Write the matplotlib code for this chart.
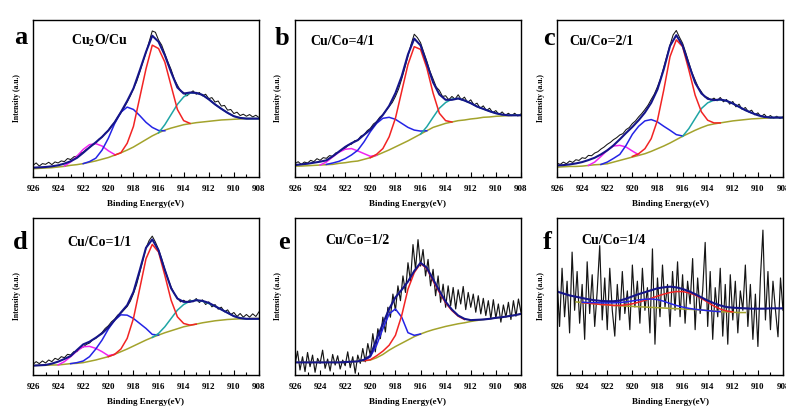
"""Cu 2p satellite XPS fits for six Cu/Co ratios, 2x3 panel figure."""
import matplotlib

matplotlib.use("Agg")
import matplotlib.pyplot as plt  # noqa: E402
import numpy as np  # noqa: E402

plt.rcParams["font.family"] = "Liberation Serif"
plt.rcParams["font.weight"] = "bold"
plt.rcParams["mathtext.fontset"] = "custom"
plt.rcParams["mathtext.rm"] = "Liberation Serif:bold"

# binding energy axis, curves sampled every 0.5 eV from 926 down to 908
E_START, E_END = 926.0, 908.0

# ---- panel a: Cu2O/Cu ----
A_BG = [25, 26, 27, 28, 30, 32, 35, 37, 40, 44, 48, 53, 58, 65, 72, 80, 89, 100, 111, 122,
        131, 139, 145, 150, 155, 158, 161, 163, 165, 167, 169, 170, 171, 172, 173, 173, 173]
A_ENV = [28, 29, 30, 32, 35, 40, 47, 57, 72, 88, 103, 119, 138, 162, 192, 225, 262, 315, 370, 418,
         400, 360, 310, 265, 247, 250, 249, 243, 230, 215, 202, 190, 180, 175, 173, 173, 173]
A_RED = (919.5, [65, 72, 100, 150, 235, 320, 390, 380, 340, 270, 200, 167, 159])
A_BLUE = (922.0, [40, 46, 56, 80, 115, 158, 192, 207, 200, 182, 162, 147, 138, 137])
A_PINK = (923.5, [33, 45, 62, 82, 96, 99, 92, 78, 67])
A_TEAL = (916.0, [131, 155, 185, 215, 237, 249, 249, 243, 230, 215, 202, 190, 180, 175, 173, 173, 173])
A_RAW = [35, 42, 33, 40, 38, 44, 37, 45, 42, 48, 46, 55, 52, 60, 62, 70, 74, 82, 88, 95,
         100, 112, 118, 130, 138, 152, 162, 178, 190, 205, 222, 240, 262, 282, 310, 340, 368, 400, 432, 428,
         405, 390, 365, 340, 318, 290, 272, 255, 250, 240, 248, 255, 245, 250, 240, 245, 232, 235, 222, 225,
         210, 212, 198, 200, 188, 192, 182, 186, 180, 185, 178, 183, 176]

# ---- panel b: Cu/Co=4/1 ----
B_BG = [33, 33, 34, 35, 36, 37, 38, 41, 43, 46, 48, 53, 58, 65, 73, 81, 90, 99, 108, 118,
        128, 138, 148, 154, 160, 164, 168, 170, 173, 175, 178, 179, 181, 182, 183, 184, 184]
B_ENV = [36, 38, 40, 43, 46, 50, 62, 76, 90, 101, 110, 126, 141, 163, 185, 212, 250, 300, 365, 412,
         392, 338, 282, 246, 230, 230, 234, 228, 220, 210, 203, 196, 190, 186, 184, 184, 184]
B_RED = (920.0, [58, 68, 85, 120, 175, 255, 335, 388, 380, 325, 250, 190, 168, 164])
B_BLUE = (923.5, [38, 42, 47, 55, 66, 80, 105, 135, 160, 175, 178, 172, 160, 148, 140, 137, 138])
B_PINK = (924.0, [36, 45, 60, 74, 83, 85, 78, 70, 62, 65])
B_TEAL = (916.0, [128, 150, 178, 205, 222, 232, 234, 228, 220, 210, 203, 196, 190, 186, 184, 184, 184])
B_RAW = [40, 46, 38, 45, 42, 50, 46, 55, 50, 58, 56, 64, 62, 72, 74, 82, 86, 96, 98, 108,
         110, 122, 126, 138, 145, 158, 165, 178, 186, 198, 210, 222, 240, 262, 292, 325, 360, 395, 425, 415,
         400, 372, 345, 315, 292, 268, 258, 240, 242, 230, 240, 232, 245, 230, 238, 222, 230, 215, 220, 205,
         212, 198, 205, 192, 198, 186, 194, 184, 190, 183, 190, 182, 188]

# ---- panel c: Cu/Co=2/1 ----
C_BG = [30, 31, 32, 32, 33, 35, 37, 38, 40, 45, 50, 55, 60, 65, 70, 77, 85, 93, 102, 112,
        122, 131, 140, 148, 155, 159, 162, 165, 168, 170, 172, 174, 175, 176, 177, 178, 178]
C_ENV = [35, 36, 38, 41, 45, 51, 58, 68, 80, 95, 113, 132, 150, 170, 193, 222, 262, 322, 392, 424,
         393, 336, 282, 250, 234, 230, 232, 228, 220, 210, 200, 192, 185, 180, 178, 178, 178]
C_RED = (920.0, [62, 70, 85, 115, 170, 260, 360, 410, 390, 320, 245, 195, 170, 162, 162])
C_BLUE = (922.5, [38, 45, 56, 68, 95, 128, 152, 168, 172, 165, 152, 140, 127, 123])
C_PINK = (923.5, [35, 45, 62, 80, 93, 95, 90, 78, 67])
C_TEAL = (916.0, [122, 145, 175, 205, 222, 230, 231, 228, 220, 210, 200, 192, 185, 180, 178, 178, 178])
C_RAW = [42, 38, 45, 40, 48, 44, 52, 50, 58, 56, 65, 64, 72, 76, 84, 90, 98, 104, 112, 118,
         126, 130, 142, 148, 160, 168, 180, 190, 202, 215, 232, 248, 270, 295, 328, 362, 395, 425, 438, 418,
         400, 372, 342, 312, 290, 268, 255, 240, 238, 230, 236, 228, 238, 225, 232, 218, 226, 210, 218, 202,
         208, 195, 200, 186, 192, 180, 188, 178, 184, 176, 182, 175, 180]

# ---- panel d: Cu/Co=1/1 ----
D_BG = [28, 29, 29, 30, 30, 32, 34, 35, 37, 41, 45, 50, 55, 62, 70, 78, 87, 96, 105, 113,
        120, 127, 133, 139, 145, 149, 153, 157, 160, 163, 165, 167, 168, 169, 169, 170, 170]
D_ENV = [28, 29, 30, 34, 40, 48, 57, 75, 92, 100, 112, 125, 143, 165, 188, 210, 250, 315, 383, 408,
         375, 316, 261, 230, 220, 220, 225, 223, 217, 207, 197, 187, 177, 171, 169, 169, 169]
D_RED = (920.0, [55, 62, 78, 110, 170, 260, 350, 393, 370, 300, 225, 175, 155, 150, 153])
D_BLUE = (923.0, [34, 37, 42, 55, 78, 105, 138, 165, 181, 180, 170, 155, 140, 122, 120])
D_PINK = (924.0, [30, 40, 55, 72, 85, 86, 80, 70, 58, 62])
D_TEAL = (916.5, [113, 125, 145, 170, 195, 212, 222, 225, 222, 215, 207, 197, 187, 177, 171, 169, 169, 169])
D_RAW = [32, 40, 34, 42, 36, 45, 40, 50, 46, 55, 52, 62, 60, 70, 70, 80, 84, 92, 96, 106,
         110, 120, 128, 140, 148, 160, 168, 180, 186, 196, 206, 222, 245, 272, 308, 345, 382, 405, 418, 400,
         378, 350, 318, 290, 265, 245, 232, 220, 225, 218, 226, 220, 230, 218, 226, 212, 220, 205, 212, 198,
         204, 190, 196, 182, 188, 176, 185, 174, 182, 174, 184, 176, 190]

# ---- panel e: Cu/Co=1/2 ----
E_BG = [38, 38, 38, 38, 38, 38, 38, 38, 39, 40, 41, 43, 45, 52, 62, 75, 86, 96, 106, 116,
        124, 131, 137, 142, 147, 151, 155, 158, 162, 165, 168, 170, 173, 175, 178, 181, 185]
E_ENV = [38, 38, 38, 38, 38, 38, 38, 38, 39, 40, 41, 46, 58, 108, 155, 200, 235, 258, 283, 315,
         340, 325, 290, 255, 222, 198, 180, 170, 166, 167, 168, 170, 173, 175, 178, 181, 185]
E_RED = (920.5, [43, 46, 58, 72, 90, 120, 180, 260, 310, 338, 322, 285, 250, 218, 195, 178, 168])
E_BLUE = (920.5, [43, 55, 90, 140, 185, 200, 175, 128, 120, 124])
E_RAW = [30, 72, 15, 55, 10, 68, 25, 60, 8, 50, 35, 75, 20, 48, 12, 62, 30, 58, 18, 45,
         28, 70, 22, 55, 5, 60, 35, 80, 40, 95, 60, 125, 70, 140, 110, 175, 130, 205, 175, 245,
         195, 270, 225, 300, 250, 340, 285, 395, 320, 410, 330, 380, 300, 350, 270, 320, 240, 300, 220, 275,
         205, 270, 210, 265, 200, 258, 215, 268, 198, 250, 205, 245, 190, 240, 185, 232, 180, 225, 170, 228,
         172, 215, 160, 212, 175, 220, 168, 225, 178, 230, 190]

# ---- panel f: Cu/Co=1/4 ----
F_BG = (924.5, [226, 224, 222, 220, 218, 217, 215, 214, 213, 212, 211, 210, 209, 208, 207, 206, 205, 204,
                203, 202, 201, 199, 198, 196, 195, 194, 193, 193])
F_ENV = [258, 252, 246, 242, 238, 234, 231, 229, 228, 228, 230, 236, 243, 250, 256, 262, 268, 271, 273, 271,
         266, 259, 250, 240, 230, 222, 215, 210, 208, 207, 206, 205, 205, 205, 206, 206, 206]
F_RED = (924.0, [224, 222, 220, 218, 217, 215, 215, 217, 220, 225, 231, 237, 244, 250, 255, 258, 258, 254,
                 247, 237, 225, 213, 204, 198, 195])
F_BLUE = (924.0, [225, 224, 224, 223, 223, 223, 224, 226, 229, 232, 234, 235, 233, 228, 221, 215, 210, 206,
                  203, 201, 199, 197, 196])
F_RAW = [300, 150, 330, 180, 290, 130, 380, 200, 320, 160, 280, 110, 350, 190, 310, 150, 260, 400, 170, 300,
         140, 330, 200, 120, 280, 170, 320, 190, 260, 140, 340, 210, 290, 160, 330, 200, 270, 130, 390, 95,
         300, 180, 340, 210, 280, 150, 320, 200, 350, 180, 310, 160, 290, 220, 360, 140, 300, 190, 260, 410,
         150, 320, 110, 270, 180, 330, 120, 280, 95, 310, 170, 290, 130, 260, 200, 340, 150, 280, 110, 250,
         88, 300, 448, 170, 320, 140, 290, 200, 118, 300, 200]

LETTERS = ["a", "b", "c", "d", "e", "f"]
TITLES = [r"Cu$_\mathrm{2}$O/Cu", "Cu/Co=4/1", "Cu/Co=2/1", "Cu/Co=1/1", "Cu/Co=1/2", "Cu/Co=1/4"]
Y_TOPS = [465, 468, 470, 474, 477, 487]

PANELS = [
    dict(raw=A_RAW, bg=(E_START, A_BG), env=A_ENV,
         comps=[("pink", A_PINK), ("blue", A_BLUE), ("teal", A_TEAL), ("red", A_RED)]),
    dict(raw=B_RAW, bg=(E_START, B_BG), env=B_ENV,
         comps=[("pink", B_PINK), ("blue", B_BLUE), ("teal", B_TEAL), ("red", B_RED)]),
    dict(raw=C_RAW, bg=(E_START, C_BG), env=C_ENV,
         comps=[("pink", C_PINK), ("blue", C_BLUE), ("teal", C_TEAL), ("red", C_RED)]),
    dict(raw=D_RAW, bg=(E_START, D_BG), env=D_ENV,
         comps=[("pink", D_PINK), ("blue", D_BLUE), ("teal", D_TEAL), ("red", D_RED)]),
    dict(raw=E_RAW, bg=(E_START, E_BG), env=E_ENV,
         comps=[("blue", E_BLUE), ("red", E_RED)]),
    dict(raw=F_RAW, bg=F_BG, env=F_ENV,
         comps=[("red", F_RED), ("blue", F_BLUE)]),
]

COLORS = {
    "raw": "#151515",
    "bg": "#a3a32c",
    "env": "#15158a",
    "red": "#f22424",
    "blue": "#2424e6",
    "pink": "#f024f0",
    "teal": "#1fa5a5",
}

# layout in figure fractions (left, bottom)
AX_W, AX_H = 0.2875, 0.382
AX_POS = [(0.042, 0.570), (0.3753, 0.570), (0.7087, 0.570),
          (0.042, 0.090), (0.3753, 0.090), (0.7087, 0.090)]
LETTER_POS = [(-0.025, 0.845), (-0.025, 0.84), (-0.01, 0.84),
              (-0.025, 0.80), (-0.025, 0.80), (-0.025, 0.80)]
TITLE_POS = [(0.17, 0.84), (0.066, 0.84), (0.053, 0.84),
             (0.15, 0.816), (0.133, 0.835), (0.106, 0.835)]


def half_ev(start, n):
    return start - 0.5 * np.arange(n)


fig = plt.figure(figsize=(7.86, 4.12), dpi=100)

for i, p in enumerate(PANELS):
    ax = fig.add_axes([AX_POS[i][0], AX_POS[i][1], AX_W, AX_H])
    raw = p["raw"]
    ax.plot(np.linspace(E_START, E_END, len(raw)), raw, color=COLORS["raw"],
            lw=0.75 if i < 4 else 0.85)
    bg_start, bg = p["bg"]
    ax.plot(half_ev(bg_start, len(bg)), bg, color=COLORS["bg"], lw=1.1)
    for name, (start, vals) in p["comps"]:
        ax.plot(half_ev(start, len(vals)), vals, color=COLORS[name], lw=1.1)
    ax.plot(half_ev(E_START, len(p["env"])), p["env"], color=COLORS["env"], lw=1.5)

    ax.set_xlim(E_START, E_END)
    ax.set_ylim(0, Y_TOPS[i])
    ax.set_xticks(np.arange(926, 907, -2))
    ax.set_xticks(np.arange(925, 908, -2), minor=True)
    ax.set_yticks([])
    ax.tick_params(axis="x", which="both", direction="in", width=0.8, labelsize=6.5, pad=6)
    ax.tick_params(axis="x", which="major", length=3.5)
    ax.tick_params(axis="x", which="minor", length=2)
    for lab in ax.get_xticklabels():
        lab.set_fontweight("bold")
    for s in ax.spines.values():
        s.set_linewidth(1.0)
    ax.set_xlabel("Binding Energy(eV)", fontsize=6.5, fontweight="bold", labelpad=5)
    ax.set_ylabel("Intensity (a.u.)", fontsize=5.5, fontweight="bold", labelpad=9)

    ax.text(LETTER_POS[i][0], LETTER_POS[i][1], LETTERS[i], transform=ax.transAxes,
            ha="right", va="baseline", fontsize=19, fontweight="bold")
    ax.text(TITLE_POS[i][0], TITLE_POS[i][1], TITLES[i], transform=ax.transAxes,
            ha="left", va="baseline", fontsize=10, fontweight="bold")

fig.savefig("out.png", dpi=100)
plt.close(fig)
